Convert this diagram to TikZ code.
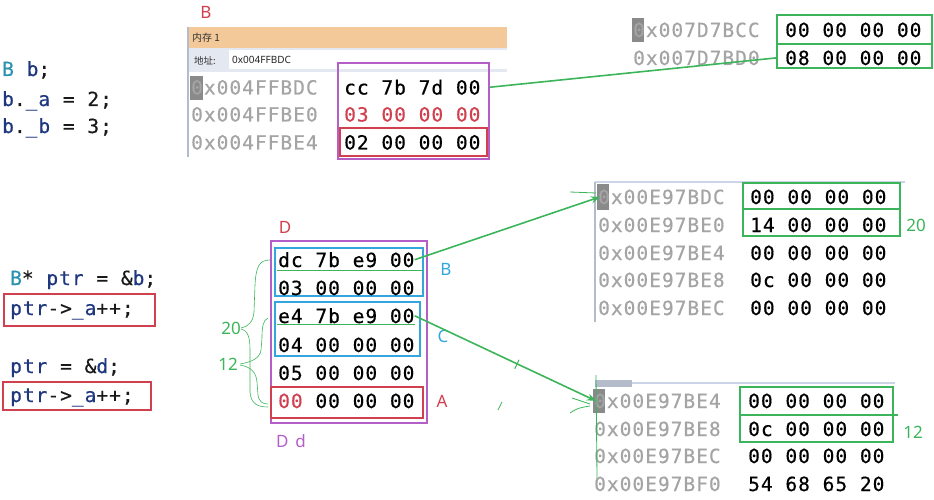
\documentclass[tikz,border=0pt]{standalone}
\usepackage{fontspec}
\setmonofont[LetterSpace=5.2,FakeBold=0.5]{DejaVu Sans Mono}
\newfontfamily\cjk{Noto Sans CJK SC}
\newfontfamily\lblsans{Noto Sans}
\usetikzlibrary{arrows.meta,calc}
\definecolor{grn}{HTML}{3CB55A}
\definecolor{pur}{HTML}{B35FC7}
\definecolor{rd}{HTML}{D0404E}
\definecolor{blu}{HTML}{33A6E0}
\definecolor{tealc}{HTML}{2B91AF}
\definecolor{navyc}{HTML}{1F377F}
\definecolor{addrc}{HTML}{A4A4A4}
\definecolor{hlc}{HTML}{8A8A8A}
\definecolor{hdr}{HTML}{F3C99A}
\definecolor{abar}{HTML}{E4E8F0}
\definecolor{framec}{HTML}{B4BCCC}
\definecolor{barc}{HTML}{CCD4E8}
\newcommand\monosize{\ttfamily\fontsize{19.5}{19.5}\selectfont}
\newcommand\ty[1]{\textcolor{tealc}{#1}}
\newcommand\vr[1]{\textcolor{navyc}{#1}}
\begin{document}
\begin{tikzpicture}[x=1pt,y=-1pt,
  code/.style={font=\monosize, inner sep=0pt, anchor=base west, text=black!90},
  addr/.style={code, text=addrc},
  val/.style={code, text=black},
  lbl/.style={font=\lblsans\fontsize{17}{17}\selectfont, inner sep=0pt},
  num/.style={lbl, text=grn},
  gbox/.style={draw=grn, line width=1.6pt},
  rbox/.style={draw=rd, line width=1.6pt},
  pbox/.style={draw=pur, line width=1.6pt},
  bbox/.style={draw=blu, line width=1.6pt},
  link/.style={grn, line width=1.6pt},
  arr/.style={link, -{Stealth[length=9pt,width=7pt]}},
  hand/.style={grn, line width=0.6pt},
  hl/.style={fill=hlc},
]
\useasboundingbox (0,0) rectangle (934,500);

% ---------- top-left code ----------
\node[code] (c1) at (2,76) {\ty{B} \vr{b};};
\node[code] (c2) at (2,106) {\vr{b}.\vr{\_a} = 2;};
\node[code] (c3) at (2,133) {\vr{b}.\vr{\_b} = 3;};

% ---------- top memory window ----------
\node[lbl, text=rd] (Btop) at (206,12) {B};
\fill[hdr] (188,27) rectangle (507,48);
\node[font=\cjk\fontsize{10}{10}\selectfont, anchor=west, inner sep=0pt, text=black!80] (memtitle) at (192,37.5) {内存 1};
\fill[abar] (188,48) rectangle (507,72);
\fill[white] (229,50) rectangle (507,69);
\node[font=\cjk\fontsize{9.5}{9.5}\selectfont, anchor=west, inner sep=0pt, text=black!80] (addrlbl) at (194,61) {地址:};
\node[font=\lblsans\fontsize{10}{10}\selectfont, anchor=west, inner sep=0pt, text=black!85] (addrval) at (232,60) {0x004FFBDC};
\draw[framec, line width=1.5pt] (188,27) -- (188,157);

\fill[hl] (190,76) rectangle (203,100);
\node[addr] (a1) at (191,94.5) {0x004FFBDC};
\node[addr] (a2) at (191,121.5) {0x004FFBE0};
\node[addr] (a3) at (191,149.5) {0x004FFBE4};
\node[val] (v1) at (344,94.5) {cc 7b 7d 00};
\node[val, text=rd] (v2) at (344,121.5) {03 00 00 00};
\node[val] (v3) at (344,149.5) {02 00 00 00};
\node[pbox, minimum width=151, minimum height=96, inner sep=0pt] (pboxT) at (413.5,111) {};
\node[rbox, minimum width=147, minimum height=28, inner sep=0pt] (rboxT) at (413.5,142) {};

% ---------- top-right memory ----------
\fill[hl] (632,18) rectangle (644,42);
\node[addr] (t1) at (633,37) {0x007D7BCC};
\node[addr] (t2) at (633,65) {0x007D7BD0};
\node[val] (tv1) at (785,37) {00 00 00 00};
\node[val] (tv2) at (785,65) {08 00 00 00};
\node[gbox, minimum width=155, minimum height=53, inner sep=0pt] (tboxT) at (854.5,41.5) {};
\draw[link] (tboxT.west |- 0,44) -- (tboxT.east |- 0,44);
\draw[link] (v1.east -| pboxT.east) -- (tboxT.west |- tv2.west);

% ---------- middle-left code ----------
\node[code] (c4) at (10,285) {\ty{B}* \vr{ptr} = \&\vr{b};};
\node[code] (c5) at (10,315) {\vr{ptr}->\vr{\_a}++;};
\draw[rbox] (4,294) rectangle (155,326);
\node[code] (c6) at (10,373) {\vr{ptr} = \&\vr{d};};
\node[code] (c7) at (10,402) {\vr{ptr}->\vr{\_a}++;};
\draw[rbox] (3,382) rectangle (151,410);

% ---------- D block ----------
\node[lbl, text=rd] (Dlbl) at (285,227) {D};
\draw[pbox] (271,241) rectangle (427,423);
\draw[bbox] (275,248) rectangle (423,296);
\draw[bbox] (275,302) rectangle (420,356);
\node[val] (d1) at (278,267) {dc 7b e9 00};
\node[val] (d2) at (278,295) {03 00 00 00};
\node[val] (d3) at (278,323) {e4 7b e9 00};
\node[val] (d4) at (278,352) {04 00 00 00};
\node[val] (d5) at (278,380) {05 00 00 00};
\node[val] (d6) at (278,408) {\textcolor{rd}{00} 00 00 00};
\draw[link] (277,270.5) -- (423,270.5);
\draw[link] (277,324.5) -- (415,324.5);
\draw[rbox] (271,387) rectangle (423,418);
\node[lbl, text=blu] (Blbl) at (446,269) {B};
\node[lbl, text=blu] (Clbl) at (443,336) {C};
\node[lbl, text=rd] (Albl) at (442,401) {A};
\node[lbl, text=pur] (Ddlbl) at (291,441) {D\hspace{7pt}d};

% braces
\node[num] (n20) at (231,328) {20};
\node[num] (n12) at (228,364) {12};
\draw[hand] (270,260) .. controls (259,260) and (256,267) .. (255,285) -- (254,312) .. controls (253,322) and (249,326) .. (241,328);
\draw[hand] (241,329) .. controls (248,331) and (250,337) .. (250,350) -- (250,392) .. controls (251,404) and (258,407) .. (268,407);
\draw[hand] (268,318) .. controls (263,320) and (262,327) .. (262,338) -- (261,350) .. controls (260,358) and (252,362) .. (240,364);
\draw[hand] (240,365) .. controls (251,367) and (256,372) .. (257,382) -- (258,395) .. controls (259,402) and (263,404) .. (268,404);

% ---------- right-middle memory ----------
\draw[barc, line width=1.5pt] (595,182) -- (905,182);
\draw[framec, line width=1.2pt] (595,182) -- (595,322);
\fill[hl] (597,184) rectangle (609,210);
\node[addr] (r1) at (598,204) {0x00E97BDC};
\node[addr] (r2) at (598,232) {0x00E97BE0};
\node[addr] (r3) at (598,260) {0x00E97BE4};
\node[addr] (r4) at (598,287) {0x00E97BE8};
\node[addr] (r5) at (598,315) {0x00E97BEC};
\node[val] (rv1) at (750,204) {00 00 00 00};
\node[val] (rv2) at (750,232) {14 00 00 00};
\node[val] (rv3) at (750,260) {00 00 00 00};
\node[val] (rv4) at (750,287) {0c 00 00 00};
\node[val] (rv5) at (750,315) {00 00 00 00};
\node[gbox, minimum width=157, minimum height=53, inner sep=0pt] (rbox) at (821.5,209.5) {};
\draw[link] (rbox.west |- 0,209) -- (rbox.east |- 0,209);
\node[num] (n20r) at (916,225) {20};
\draw[hand, line width=0.8pt] (570,192) -- (596,193);
\draw[arr] (d1.east) -- ([xshift=2pt]r1.west);

% ---------- bottom-right memory ----------
\draw[barc, line width=2.5pt] (595,383) -- (895,383);
\fill[framec] (595,379.5) rectangle (632,387);
\fill[hl] (593,389) rectangle (605,413);
\node[addr] (s1) at (594,408) {0x00E97BE4};
\node[addr] (s2) at (594,436) {0x00E97BE8};
\node[addr] (s3) at (594,463) {0x00E97BEC};
\node[addr] (s4) at (594,491) {0x00E97BF0};
\node[val] (sv1) at (748,408) {00 00 00 00};
\node[val] (sv2) at (748,436) {0c 00 00 00};
\node[val] (sv3) at (748,463) {00 00 00 00};
\node[val] (sv4) at (748,491) {54 68 65 20};
\node[gbox, minimum width=153, minimum height=55, inner sep=0pt] (sbox) at (816.5,414.5) {};
\draw[link] (sbox.west |- 0,415) -- ([xshift=4pt]sbox.east |- 0,415);
\node[num] (n12r) at (913,432) {12};
\draw[hand, line width=0.8pt] (596,375) -- (597,478);
\draw[arr] (d3.east) -- ([xshift=2pt]s1.west);
\coordinate (tk) at ($(d3.east)!0.57!(s1.west)$);
\draw[grn, line width=1pt] ($(tk)!5pt!90:(s1.west)$) -- ($(tk)!5pt!-90:(s1.west)$);
\draw[hand, line width=0.8pt] (572,398) -- (590,404);
\draw[hand, line width=0.8pt] (570,413) .. controls (578,408) .. (590,406);
\draw[hand, line width=0.8pt] (498,410) -- (502,402);
\end{tikzpicture}
\end{document}
